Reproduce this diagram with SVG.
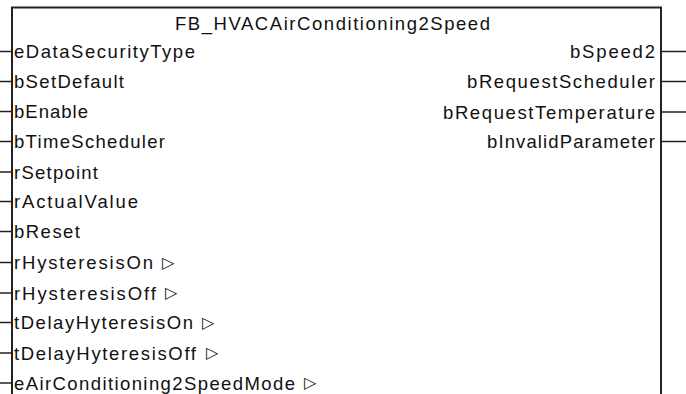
<svg xmlns="http://www.w3.org/2000/svg" width="686" height="394" viewBox="0 0 686 394">
<style>
text{font-family:"Liberation Sans",Arial,sans-serif;font-size:18.5px;fill:#111}
.r{text-anchor:end}
.t{font-family:"DejaVu Sans",sans-serif;font-size:16px}
.box{fill:#fff;stroke:#222;stroke-width:2}
.c line{stroke:#222;stroke-width:1.5}
</style>
<rect width="686" height="394" fill="#fff"/>
<g id="fb">
<rect class="box" x="12" y="7.5" width="649" height="400"/>
<text x="175" y="29.5" textLength="315" lengthAdjust="spacing">FB_HVACAirConditioning2Speed</text>
</g>
<g class="c" id="connectors">
<line x1="0" y1="51.5" x2="12" y2="51.5"/>
<line x1="0" y1="81.5" x2="12" y2="81.5"/>
<line x1="0" y1="111.5" x2="12" y2="111.5"/>
<line x1="0" y1="141.5" x2="12" y2="141.5"/>
<line x1="0" y1="172" x2="12" y2="172"/>
<line x1="0" y1="201.5" x2="12" y2="201.5"/>
<line x1="0" y1="231.5" x2="12" y2="231.5"/>
<line x1="0" y1="262.5" x2="12" y2="262.5"/>
<line x1="0" y1="293" x2="12" y2="293"/>
<line x1="0" y1="322.5" x2="12" y2="322.5"/>
<line x1="0" y1="353" x2="12" y2="353"/>
<line x1="0" y1="383" x2="12" y2="383"/>
<line x1="661" y1="51.5" x2="686" y2="51.5"/>
<line x1="661" y1="81.5" x2="686" y2="81.5"/>
<line x1="661" y1="112" x2="686" y2="112"/>
<line x1="661" y1="141.5" x2="686" y2="141.5"/>
</g>
<g id="in-eDataSecurityType"><text x="14" y="58" textLength="181" lengthAdjust="spacing">eDataSecurityType</text></g>
<g id="in-bSetDefault"><text x="14" y="88" textLength="110" lengthAdjust="spacing">bSetDefault</text></g>
<g id="in-bEnable"><text x="14" y="118" textLength="74" lengthAdjust="spacing">bEnable</text></g>
<g id="in-bTimeScheduler"><text x="14" y="148" textLength="151" lengthAdjust="spacing">bTimeScheduler</text></g>
<g id="in-rSetpoint"><text x="14" y="178.5" textLength="84" lengthAdjust="spacing">rSetpoint</text></g>
<g id="in-rActualValue"><text x="14" y="208" textLength="124" lengthAdjust="spacing">rActualValue</text></g>
<g id="in-bReset"><text x="14" y="238" textLength="66" lengthAdjust="spacing">bReset</text></g>
<g id="in-rHysteresisOn"><text x="14" y="269" textLength="139" lengthAdjust="spacing">rHysteresisOn</text><text class="t" x="162" y="267.5">▷</text></g>
<g id="in-rHysteresisOff"><text x="14" y="299.5" textLength="142" lengthAdjust="spacing">rHysteresisOff</text><text class="t" x="165" y="298">▷</text></g>
<g id="in-tDelayHyteresisOn"><text x="14" y="329" textLength="179" lengthAdjust="spacing">tDelayHyteresisOn</text><text class="t" x="202" y="327.5">▷</text></g>
<g id="in-tDelayHyteresisOff"><text x="14" y="359.5" textLength="182" lengthAdjust="spacing">tDelayHyteresisOff</text><text class="t" x="206" y="358">▷</text></g>
<g id="in-eAirConditioning2SpeedMode"><text x="14" y="389.5" textLength="281" lengthAdjust="spacing">eAirConditioning2SpeedMode</text><text class="t" x="304" y="388">▷</text></g>
<g id="out-bSpeed2"><text x="570" y="58" textLength="85" lengthAdjust="spacing">bSpeed2</text></g>
<g id="out-bRequestScheduler"><text x="467" y="88" textLength="188" lengthAdjust="spacing">bRequestScheduler</text></g>
<g id="out-bRequestTemperature"><text x="443" y="118.5" textLength="212" lengthAdjust="spacing">bRequestTemperature</text></g>
<g id="out-bInvalidParameter"><text x="487" y="148" textLength="168" lengthAdjust="spacing">bInvalidParameter</text></g>
</svg>
